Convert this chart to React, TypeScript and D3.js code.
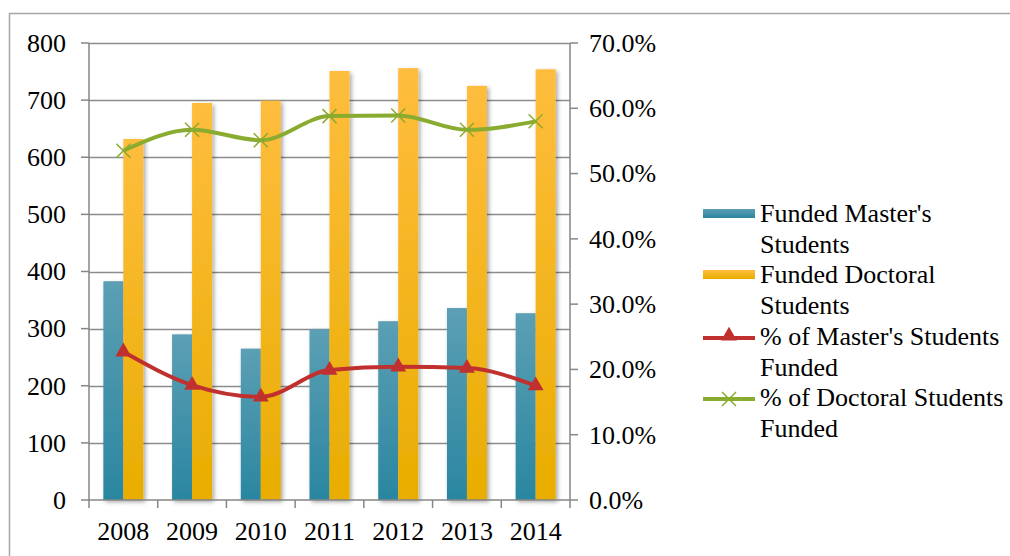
import React, { useEffect, useRef } from "react";
import * as d3 from "d3";

const years = ["2008", "2009", "2010", "2011", "2012", "2013", "2014"];
const masters = [383, 290, 265, 299, 313, 336, 327];
const doctoral = [632, 695, 699, 751, 756, 725, 754];
const pctMasters = [0.227, 0.176, 0.158, 0.199, 0.204, 0.202, 0.175];
const pctDoctoral = [0.535, 0.567, 0.551, 0.588, 0.589, 0.567, 0.58];
const leftTicks = [0, 100, 200, 300, 400, 500, 600, 700, 800];
const rightTicks = [0, 0.1, 0.2, 0.3, 0.4, 0.5, 0.6, 0.7];
const legendLabels = [
  ["Funded Master's", "Students"],
  ["Funded Doctoral", "Students"],
  ["% of Master's Students", "Funded"],
  ["% of Doctoral Students", "Funded"],
];

const W = 1010;
const H = 556;
const font = "Liberation Serif";

export default function App() {
  const ref = useRef<SVGSVGElement>(null);

  useEffect(() => {
    const svg = d3.select(ref.current);
    svg.selectAll("*").remove();

    const left = 89, right = 570, top = 43, bottom = 500;

    const x = d3.scaleBand().domain(years).range([left, right]);
    const y = d3.scaleLinear().domain([0, 800]).range([bottom, top]);
    const y2 = d3.scaleLinear().domain([0, 0.7]).range([bottom, top]);

    const defs = svg.append("defs");
    const g1 = defs.append("linearGradient").attr("id", "gm").attr("x1", 0).attr("y1", 0).attr("x2", 0).attr("y2", 1);
    g1.append("stop").attr("offset", "0%").attr("stop-color", "#5c9fb4");
    g1.append("stop").attr("offset", "100%").attr("stop-color", "#2a86a0");
    const g2 = defs.append("linearGradient").attr("id", "gd").attr("x1", 0).attr("y1", 0).attr("x2", 0).attr("y2", 1);
    g2.append("stop").attr("offset", "0%").attr("stop-color", "#ffbd3e");
    g2.append("stop").attr("offset", "100%").attr("stop-color", "#e8ad00");
    const sh = defs.append("filter").attr("id", "sh").attr("x", "-30%").attr("y", "-10%").attr("width", "160%").attr("height", "130%");
    sh.append("feDropShadow").attr("dx", 2).attr("dy", 2).attr("stdDeviation", 2).attr("flood-color", "#000").attr("flood-opacity", 0.35);

    // outer border
    svg.append("rect").attr("x", 9.5).attr("y", 13.5).attr("width", W).attr("height", H)
      .attr("fill", "none").attr("stroke", "#a6a6a6").attr("stroke-width", 1.5);

    // gridlines
    svg.append("g").selectAll("line").data(leftTicks.slice(1)).join("line")
      .attr("x1", left).attr("x2", right)
      .attr("y1", (d) => Math.round(y(d)) + 0.5).attr("y2", (d) => Math.round(y(d)) + 0.5)
      .attr("stroke", "#8c8c8c").attr("stroke-width", 1.5);

    // bars
    const bw = 20;
    const bars = svg.append("g").attr("filter", "url(#sh)");
    bars.selectAll("rect.m").data(masters).join("rect")
      .attr("x", (_, i) => x(years[i])! + x.bandwidth() / 2 - bw)
      .attr("y", (d) => y(d)).attr("width", bw).attr("height", (d) => bottom - y(d))
      .attr("fill", "url(#gm)");
    bars.selectAll("rect.d").data(doctoral).join("rect")
      .attr("x", (_, i) => x(years[i])! + x.bandwidth() / 2)
      .attr("y", (d) => y(d)).attr("width", bw).attr("height", (d) => bottom - y(d))
      .attr("fill", "url(#gd)");

    // axes lines
    const axisColor = "#868686";
    const ax = svg.append("g").attr("stroke", axisColor).attr("stroke-width", 1.5);
    ax.append("line").attr("x1", left).attr("x2", left).attr("y1", top).attr("y2", bottom);
    ax.append("line").attr("x1", right).attr("x2", right).attr("y1", top).attr("y2", bottom);
    ax.append("line").attr("x1", left).attr("x2", right).attr("y1", bottom).attr("y2", bottom);
    ax.selectAll("line.lt").data(leftTicks).join("line").attr("class", "lt")
      .attr("x1", left - 8).attr("x2", left).attr("y1", (d) => y(d)).attr("y2", (d) => y(d));
    ax.selectAll("line.rt").data(rightTicks).join("line").attr("class", "rt")
      .attr("x1", right).attr("x2", right + 8).attr("y1", (d) => y2(d)).attr("y2", (d) => y2(d));
    const bticks = years.map((yr) => x(yr)!).concat([right]);
    ax.selectAll("line.bt").data(bticks).join("line").attr("class", "bt")
      .attr("x1", (d) => d).attr("x2", (d) => d).attr("y1", bottom).attr("y2", bottom + 8);

    // labels
    const txt = svg.append("g").attr("fill", "#000");
    const style = (s: any) => s.style("font-family", font).style("font-size", "26px");
    style(txt.selectAll("text.l").data(leftTicks).join("text")
      .attr("x", 66).attr("y", (d) => y(d)).attr("dy", "0.34em").attr("text-anchor", "end").text((d) => d));
    style(txt.selectAll("text.r").data(rightTicks).join("text")
      .attr("x", 589).attr("y", (d) => y2(d)).attr("dy", "0.34em").text((d) => d3.format(".1%")(d)));
    style(txt.selectAll("text.b").data(years).join("text")
      .attr("x", (d) => x(d)! + x.bandwidth() / 2).attr("y", 531).attr("dy", "0.34em")
      .attr("text-anchor", "middle").text((d) => d));

    // lines
    const line = d3.line<number>()
      .x((_, i) => x(years[i])! + x.bandwidth() / 2)
      .y((d) => y2(d))
      .curve(d3.curveMonotoneX);
    const red = "#c0302e";
    const green = "#89ab2f";
    svg.append("path").datum(pctMasters).attr("d", line).attr("fill", "none")
      .attr("stroke", red).attr("stroke-width", 4).attr("stroke-linejoin", "round");
    svg.append("path").datum(pctDoctoral).attr("d", line).attr("fill", "none")
      .attr("stroke", green).attr("stroke-width", 4).attr("stroke-linejoin", "round");

    const tri = d3.symbol().type(d3.symbolTriangle).size(110);
    svg.append("g").selectAll("path").data(pctMasters).join("path")
      .attr("d", tri)
      .attr("transform", (d, i) => `translate(${x(years[i])! + x.bandwidth() / 2},${y2(d)})`)
      .attr("fill", red);
    svg.append("g").selectAll("path").data(pctDoctoral).join("path")
      .attr("d", "M-7,-7L7,7M-7,7L7,-7")
      .attr("transform", (d, i) => `translate(${x(years[i])! + x.bandwidth() / 2},${y2(d)})`)
      .attr("stroke", green).attr("stroke-width", 1.5).attr("fill", "none");

    // legend
    const lg = svg.append("g");
    const lx = 703, lw = 52;
    const rowY = [213, 274, 336, 397];
    const lineH = 31;
    lg.append("rect").attr("x", lx).attr("y", rowY[0] - 4).attr("width", lw).attr("height", 9).attr("fill", "url(#gm)");
    lg.append("rect").attr("x", lx).attr("y", rowY[1] - 4).attr("width", lw).attr("height", 9).attr("fill", "url(#gd)");
    lg.append("line").attr("x1", lx).attr("x2", lx + lw).attr("y1", rowY[2] + 2).attr("y2", rowY[2] + 2)
      .attr("stroke", red).attr("stroke-width", 4);
    lg.append("path").attr("d", tri).attr("transform", `translate(${lx + lw / 2},${rowY[2]})`).attr("fill", red);
    lg.append("line").attr("x1", lx).attr("x2", lx + lw).attr("y1", rowY[3] + 2).attr("y2", rowY[3] + 2)
      .attr("stroke", green).attr("stroke-width", 4);
    lg.append("path").attr("d", "M-7,-7L7,7M-7,7L7,-7").attr("transform", `translate(${lx + lw / 2},${rowY[3] + 2})`)
      .attr("stroke", green).attr("stroke-width", 1.5);
    legendLabels.forEach((lines, i) => {
      lines.forEach((t, j) => {
        lg.append("text").attr("x", 760).attr("y", rowY[i] + j * lineH).attr("dy", "0.34em")
          .style("font-family", font).style("font-size", "26px").text(t);
      });
    });
  }, []);

  return (
    <svg ref={ref} width={W} height={H} style={{ position: "absolute", left: 0, top: 0, background: "#fff" }} />
  );
}
